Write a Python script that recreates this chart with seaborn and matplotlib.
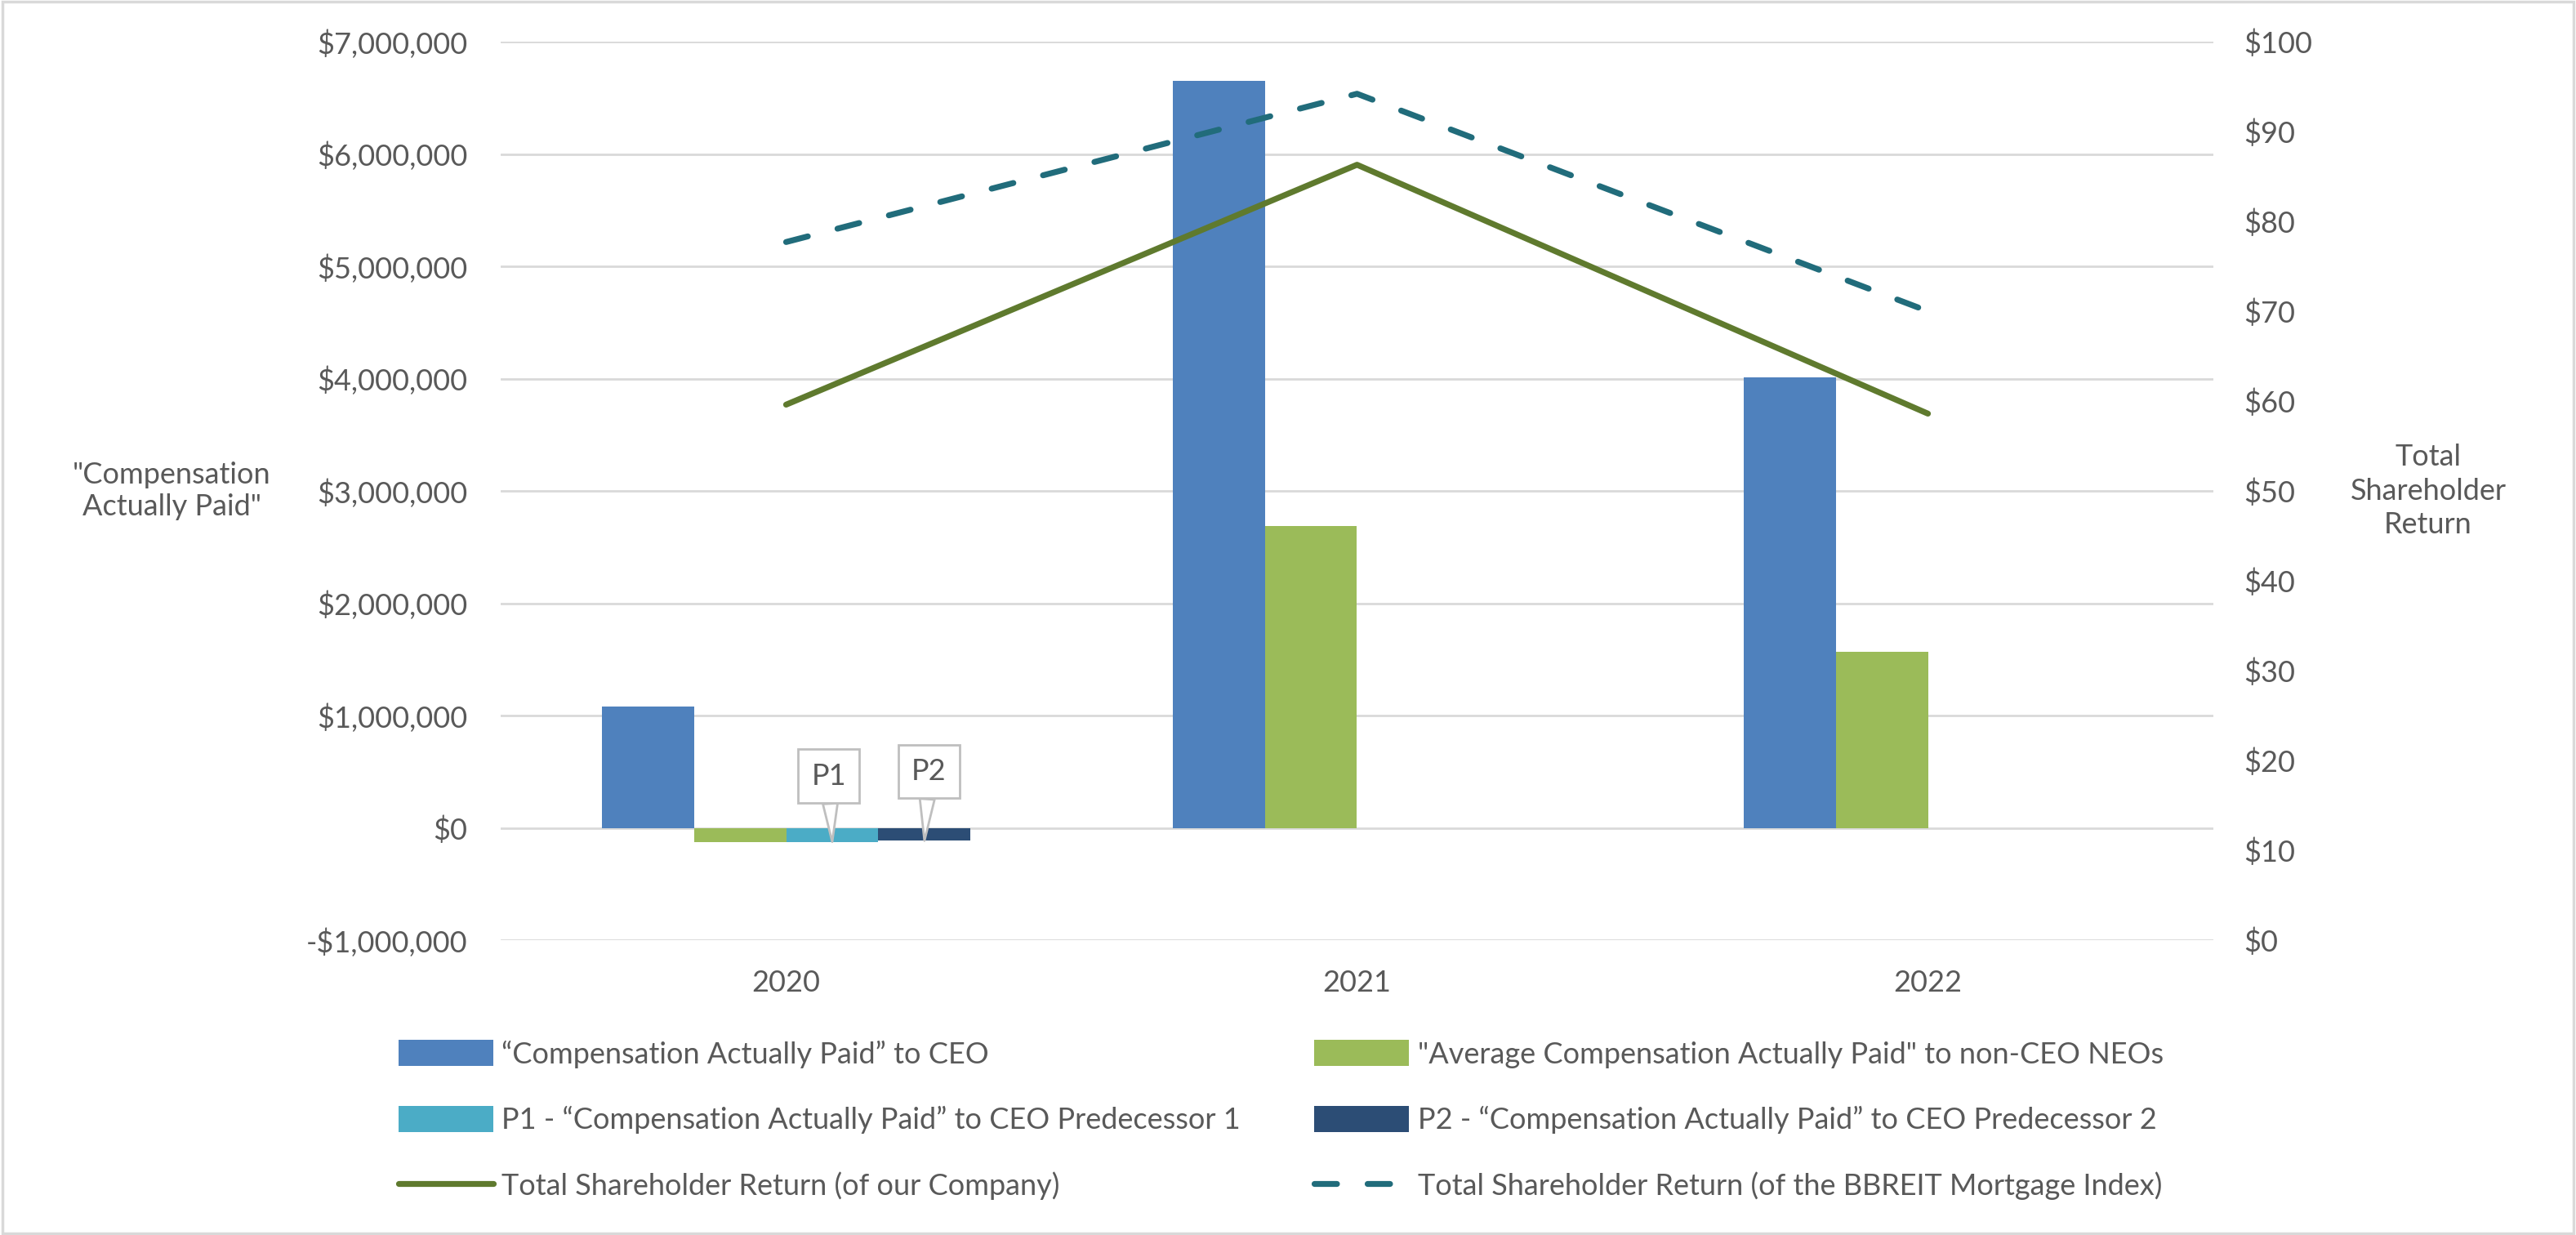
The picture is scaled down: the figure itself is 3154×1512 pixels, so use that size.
import numpy as np
import pandas as pd
import matplotlib.pyplot as plt
import seaborn as sns
from matplotlib.patches import Patch, Rectangle
from matplotlib.ticker import FuncFormatter, MultipleLocator

# Dados
anos = ["2020", "2021", "2022"]
cap_ceo = [1080000, 6650000, 4010000]
cap_neos = [-125000, 2690000, 1570000]
cap_p1 = [-125000, np.nan, np.nan]
cap_p2 = [-115000, np.nan, np.nan]
tsr_empresa = [59.6, 86.3, 58.6]
tsr_bbreit = [77.7, 94.2, 70.0]

nomes_barras = [
    "\u201cCompensation Actually Paid\u201d to CEO",
    "\"Average Compensation Actually Paid\" to non-CEO NEOs",
    "P1 - \u201cCompensation Actually Paid\u201d to CEO Predecessor 1",
    "P2 - \u201cCompensation Actually Paid\u201d to CEO Predecessor 2",
]
nomes_linhas = [
    "Total Shareholder Return (of our Company)",
    "Total Shareholder Return (of the BBREIT Mortgage Index)",
]
cores_barras = ["#4F81BD", "#9BBB59", "#4BACC6", "#2C4D75"]
cor_tsr = "#5F7A2E"
cor_bbreit = "#216C7B"
cinza = "#595959"
cinza_grade = "#D9D9D9"

sns.set_theme(style="white")
plt.rcParams["font.family"] = ["Lato", "DejaVu Sans"]
fs = 26

df = pd.DataFrame({
    "ano": anos * 4,
    "serie": np.repeat(nomes_barras, len(anos)),
    "valor": cap_ceo + cap_neos + cap_p1 + cap_p2,
})

fig = plt.figure(figsize=(31.54, 15.12), dpi=100)
ax = fig.add_axes([613 / 3154, 1 - 1151 / 1512, (2710 - 613) / 3154, 1100 / 1512])

sns.barplot(data=df, x="ano", y="valor", hue="serie", hue_order=nomes_barras,
            palette=cores_barras, width=4 / 6.19, saturation=1, errorbar=None,
            legend=False, linewidth=0, ax=ax)

ax.set_ylim(-1000000, 7000000)
ax.yaxis.set_major_locator(MultipleLocator(1000000))
ax.yaxis.set_major_formatter(FuncFormatter(
    lambda v, _: ("-" if v < 0 else "") + f"${abs(v):,.0f}"))
ax.yaxis.grid(True, color=cinza_grade, lw=2)
ax.xaxis.grid(False)
ax.set_axisbelow(True)
ax.tick_params(axis="y", length=0, pad=29, labelsize=fs, labelcolor=cinza)
ax.tick_params(axis="x", length=0, pad=26, labelsize=fs, labelcolor=cinza)
ax.set_xlabel("")
ax.set_ylabel("\"Compensation\nActually Paid\"", rotation=0, ha="center", va="center",
              fontsize=fs, color=cinza, linespacing=1.25)
ax.yaxis.set_label_coords(-0.192, 0.5)
for s in ax.spines.values():
    s.set_visible(False)

# Balões P1 / P2
for idx, rotulo, desloc in [(2, "P1", (-3, 58)), (3, "P2", (4, 61))]:
    barra = ax.containers[idx][0]
    xc = barra.get_x() + barra.get_width() / 2
    yb = barra.get_y() + barra.get_height()
    ax.annotate(rotulo, xy=(xc, yb), xytext=desloc, textcoords="offset points",
                ha="center", va="center", fontsize=fs, color=cinza,
                bbox=dict(boxstyle="square,pad=0.45", fc="white", ec="#BFBFBF", lw=2),
                arrowprops=dict(arrowstyle="wedge,tail_width=0.5", fc="white",
                                ec="#BFBFBF", lw=2, shrinkA=0, shrinkB=0))

# Eixo secundário: TSR
ax2 = ax.twinx()
xpos = np.arange(len(anos))
sns.lineplot(x=xpos, y=tsr_empresa, ax=ax2, color=cor_tsr, lw=5.2,
             solid_capstyle="round", solid_joinstyle="round")
sns.lineplot(x=xpos, y=tsr_bbreit, ax=ax2, color=cor_bbreit, lw=5.2,
             linestyle=(0, (3.8, 5.2)), dash_capstyle="round", dash_joinstyle="round")
ax2.set_ylim(0, 100)
ax2.yaxis.set_major_locator(MultipleLocator(10))
ax2.yaxis.set_major_formatter(FuncFormatter(lambda v, _: f"${v:.0f}"))
ax2.tick_params(axis="y", length=0, pad=27, labelsize=fs, labelcolor=cinza)
ax2.grid(False)
ax2.set_ylabel("Total\nShareholder\nReturn", rotation=0, ha="center", va="center",
               fontsize=fs, color=cinza, linespacing=1.3)
ax2.yaxis.set_label_coords(1.1254, 0.5)
for s in ax2.spines.values():
    s.set_visible(False)

# as categorias ocupam a largura toda, como no original
ax.set_xlim(-0.5, len(anos) - 0.5)

# Legenda (preenchida por coluna)
h_barras = [Patch(color=c, lw=0) for c in cores_barras]
h_linhas = [ax2.lines[0], ax2.lines[1]]
handles = [h_barras[0], h_barras[2], h_linhas[0], h_barras[1], h_barras[3], h_linhas[1]]
labels = [nomes_barras[0], nomes_barras[2], nomes_linhas[0],
          nomes_barras[1], nomes_barras[3], nomes_linhas[1]]
fig.legend(handles, labels, ncol=2, loc="upper left",
           bbox_to_anchor=(488 / 3154, 1 - 1273 / 1512), frameon=False,
           fontsize=fs, labelcolor=cinza, handlelength=3.2, handleheight=1.0,
           handletextpad=0.3, columnspacing=2.5, labelspacing=1.28, borderpad=0,
           borderaxespad=0)

# Moldura do gráfico
fig.add_artist(Rectangle((0.0008, 0.0013), 0.9984, 0.9974, transform=fig.transFigure,
                         fill=False, ec=cinza_grade, lw=2.5))

fig.savefig("out.png", dpi=100)
